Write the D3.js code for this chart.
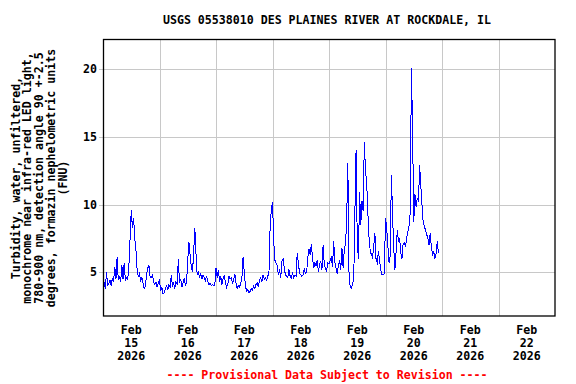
<!DOCTYPE html>
<html><head><meta charset="utf-8">
<script src="https://cdn.jsdelivr.net/npm/d3@7/dist/d3.min.js"></script>
<style>body{margin:0;background:#fff}svg{display:block}</style>
</head><body><svg id="c" width="576" height="384"></svg>
<script>
const title = "USGS 05538010 DES PLAINES RIVER AT ROCKDALE, IL";
const yLabelLines = [
  "Turbidity, water, unfiltered,",
  "monochrome near infra-red LED light,",
  "780-900 nm, detection angle 90 +-2.5",
  "degrees, formazin nephelometric units",
  "(FNU)"
];
const footnote = "---- Provisional Data Subject to Revision ----";
const yTicks = [5, 10, 15, 20];
const xTickDates = ["2026-02-15","2026-02-16","2026-02-17","2026-02-18","2026-02-19","2026-02-20","2026-02-21","2026-02-22"];
const xTickMonth = ["Feb","Feb","Feb","Feb","Feb","Feb","Feb","Feb"];
const xTickDay = ["15","16","17","18","19","20","21","22"];
const xTickYear = ["2026","2026","2026","2026","2026","2026","2026","2026"];
const startTime = "2026-02-15T00:00:00Z";
const endTime = "2026-02-23T00:00:00Z";
const stepMinutes = 30;
// turbidity (FNU), 30-minute readings
const feb15 = [3.9,4.3,3.8,5.0,4.0,4.2,4.4,4.0,4.6,4.3,5.4,4.5,6.1,4.4,4.7,4.3,5.5,4.5,5.7,4.4,4.6,4.5,5.5,7.5,9.6,8.3,9.0,7.5,6.6,5.2,4.7,4.9,4.4,4.6,4.2,3.8,4.0,4.8,5.3,5.5,4.7,4.6,4.8,4.3,4.1,4.3,3.9,4.2];
const feb16 = [4.4,3.6,3.9,3.4,3.5,3.8,4.0,3.7,4.1,3.9,4.8,4.0,4.2,3.8,4.3,4.1,6.0,4.2,4.5,3.9,4.2,4.6,4.0,4.3,5.9,7.2,6.3,5.4,5.0,6.4,8.3,6.4,4.8,5.1,4.6,4.9,4.5,4.8,4.6,4.4,4.7,4.3,4.1,4.2,4.0,4.1,4.0,4.1];
const feb17 = [5.3,4.6,5.2,4.3,4.7,4.1,4.5,4.8,4.2,3.9,4.1,4.7,4.5,4.6,4.2,4.4,4.9,4.2,3.8,4.0,3.9,4.2,4.6,6.1,5.0,4.0,3.6,3.7,3.5,3.6,3.8,3.7,4.0,3.8,4.1,4.2,3.9,4.4,4.6,4.3,4.8,4.5,4.6,4.4,4.7,5.0,8.4,9.6];
const feb18 = [10.2,7.4,5.9,5.7,5.5,4.8,5.2,4.6,5.8,6.0,5.3,4.8,4.7,4.6,5.2,4.7,4.6,4.9,4.6,4.8,4.7,6.4,5.7,4.9,4.8,4.7,4.8,5.3,4.9,5.0,6.1,6.7,6.3,7.1,6.1,5.3,5.7,5.5,5.9,5.0,5.6,5.8,5.2,7.0,5.6,5.3,5.1,5.7];
const feb19 = [5.6,5.9,6.1,5.4,7.3,5.7,5.3,4.9,5.5,5.9,5.2,6.8,5.3,6.7,7.1,8.7,13.1,5.0,3.9,3.8,4.2,4.4,9.4,14.0,7.3,6.0,10.9,8.5,10.3,9.5,14.6,12.5,11.7,9.4,7.6,6.6,6.3,6.1,6.9,7.9,5.9,5.7,6.6,5.8,5.2,4.8,4.8,4.9];
const feb20 = [9.0,8.3,7.0,5.7,6.2,12.2,9.2,6.8,5.2,6.5,8.1,7.3,7.5,6.4,6.0,7.1,7.2,6.9,7.6,8.0,8.4,9.4,20.1,15.6,8.7,10.8,9.8,10.5,10.2,12.9,11.4,10.0,8.7,8.4,8.1,7.8,7.5,7.0,7.9,6.8,6.3,6.5,6.0,6.4,7.3,6.4];

const values = [].concat(feb15, feb16, feb17, feb18, feb19, feb20);
const t0 = new Date(startTime).getTime();
const data = values.map((v, i) => ({t: new Date(t0 + i * stepMinutes * 60000), v}));

const FONT = "'DejaVu Sans Mono', 'Liberation Mono', monospace";
const FS = "11.6px";
const L = 103, R = 555, T = 39.5, B = 316;

const svg = d3.select("#c");
const x = d3.scaleUtc().domain([new Date(startTime), new Date(endTime)]).range([L, R]);
const y = d3.scaleLinear().domain([1.77, 22.2]).range([B, T]);

// grid
const dayBounds = d3.utcDay.range(new Date(startTime), new Date(endTime)).slice(1);
svg.append("g").selectAll("line").data(dayBounds).join("line")
  .attr("x1", d => Math.round(x(d)) + 0.5).attr("x2", d => Math.round(x(d)) + 0.5)
  .attr("y1", T).attr("y2", B).attr("stroke", "#c8c8c8").attr("stroke-width", 1);
svg.append("g").selectAll("line").data(yTicks).join("line")
  .attr("x1", L - 4).attr("x2", R)
  .attr("y1", d => Math.round(y(d)) + 0.5).attr("y2", d => Math.round(y(d)) + 0.5)
  .attr("stroke", "#c8c8c8").attr("stroke-width", 1);

// y tick labels
svg.append("g").selectAll("text").data(yTicks).join("text")
  .attr("x", 97).attr("y", d => y(d)).attr("dy", "0.35em")
  .attr("text-anchor", "end").attr("font-family", FONT).attr("font-size", FS)
  .attr("font-weight", "bold").text(d => d);

// data line
svg.append("path").datum(data)
  .attr("d", d3.line().x(d => x(d.t)).y(d => y(d.v)))
  .attr("fill", "none").attr("stroke", "#0000ff").attr("stroke-width", 1)
  .attr("shape-rendering", "crispEdges");

// frame
svg.append("rect").attr("x", L + 0.5).attr("y", T).attr("width", R - L - 0.5).attr("height", B - T)
  .attr("fill", "none").attr("stroke", "#000").attr("stroke-width", 1.3);

// x tick labels (centered at noon)
const xg = svg.append("g").attr("font-family", FONT).attr("font-size", FS).attr("font-weight", "bold")
  .attr("text-anchor", "middle");
xTickDates.forEach((ds, i) => {
  const cx = x(d3.utcHour.offset(new Date(ds + "T00:00:00Z"), 12));
  const tx = xg.append("text").attr("x", cx).attr("y", 334);
  tx.append("tspan").attr("x", cx).attr("dy", 0).text(xTickMonth[i]);
  tx.append("tspan").attr("x", cx).attr("dy", 13).text(xTickDay[i]);
  tx.append("tspan").attr("x", cx).attr("dy", 13).text(xTickYear[i]);
});

// title
svg.append("text").attr("x", 327).attr("y", 24).attr("text-anchor", "middle")
  .attr("font-family", FONT).attr("font-size", FS).attr("font-weight", "bold").text(title);

// y label
const yl = svg.append("text").attr("transform", "translate(0,178) rotate(-90)")
  .attr("text-anchor", "middle").attr("font-family", FONT).attr("font-size", FS).attr("font-weight", "bold");
yLabelLines.forEach((s, i) => {
  yl.append("tspan").attr("x", 0).attr("y", 19.5 + i * 11.9).text(s);
});

// footnote
svg.append("text").attr("x", 327).attr("y", 379).attr("text-anchor", "middle")
  .attr("font-family", FONT).attr("font-size", FS).attr("font-weight", "bold")
  .attr("fill", "#ff0000").text(footnote);
</script></body></html>
